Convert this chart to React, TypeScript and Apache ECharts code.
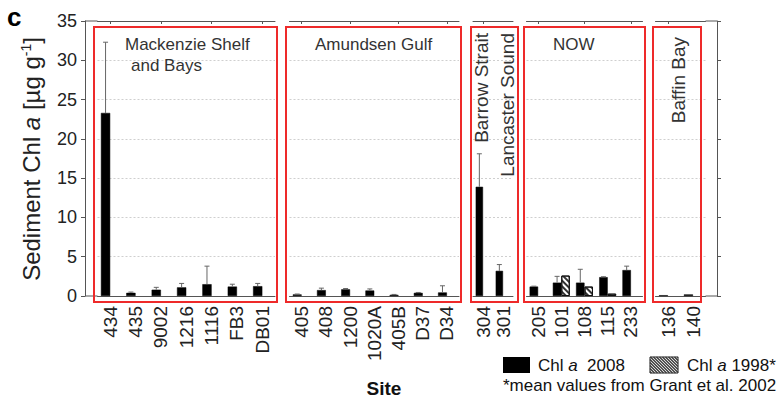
import React, { useEffect, useRef } from 'react';
import * as echarts from 'echarts';

// ---- data ----
const sitesMackenzie = ['434', '435', '9002', '1216', '1116', 'FB3', 'DB01'];
const chl2008Mackenzie = [23.3, 0.4, 0.8, 1.1, 1.5, 1.2, 1.25];
const err2008Mackenzie = [9.0, 0.1, 0.3, 0.5, 2.3, 0.3, 0.35];

const sitesAmundsen = ['405', '408', '1200', '1020A', '405B', 'D37', 'D34'];
const chl2008Amundsen = [0.2, 0.75, 0.85, 0.7, 0.15, 0.4, 0.45];
const err2008Amundsen = [0.05, 0.25, 0.1, 0.2, 0.05, 0.05, 0.85];

const sitesBarrow = ['304', '301'];
const chl2008Barrow = [13.9, 3.2];
const err2008Barrow = [4.2, 0.8];

const sitesNOW = ['205', '101', '108', '115', '233'];
const chl2008NOW = [1.2, 1.7, 1.7, 2.4, 3.3];
const err2008NOW = [0.05, 0.8, 1.7, 0.05, 0.5];
const chl1998NOW: (number | null)[] = [null, 2.6, 1.2, 0.3, null];

const sitesBaffin = ['136', '140'];
const chl2008Baffin = [0.1, 0.2];
const err2008Baffin = [0, 0];

const panelNames = ['Mackenzie Shelf', 'Amundsen Gulf', 'Barrow Strait', 'NOW', 'Baffin Bay'];
const yMin = 0;
const yMax = 35;
const yInterval = 5;

const FONT = 'Liberation Sans, Arial, sans-serif';
const AXIS = '#555';
const TXT = '#222';
const RED = '#ee2a2a';

type Panel = { sites: string[]; v08: (number | null)[]; e08: number[]; v98: (number | null)[] };
const panels: Panel[] = [
  { sites: sitesMackenzie, v08: chl2008Mackenzie, e08: err2008Mackenzie, v98: sitesMackenzie.map(() => null) },
  { sites: sitesAmundsen, v08: chl2008Amundsen, e08: err2008Amundsen, v98: sitesAmundsen.map(() => null) },
  { sites: sitesBarrow, v08: chl2008Barrow, e08: err2008Barrow, v98: sitesBarrow.map(() => null) },
  { sites: sitesNOW, v08: chl2008NOW, e08: err2008NOW, v98: chl1998NOW },
  { sites: sitesBaffin, v08: chl2008Baffin, e08: err2008Baffin, v98: sitesBaffin.map(() => null) },
];

// grid geometry (px)
const GRID_TOP = 21;
const GRID_H = 275;
const gridX = [
  [97.5, 177.5],
  [289.5, 169.5],
  [473, 40],
  [526.5, 116],
  [655.5, 50],
];
const CAT_GAP = 0.27;
const BAR_OFF = (1 - CAT_GAP) / 4; // fraction of band width from center to 2008 bar center

function hatchLines(x0: number, y0: number, w: number, h: number, step: number) {
  const out: any[] = [];
  for (let c = -h + step / 2; c < w; c += step) {
    const ya = Math.max(0, -c);
    const yb = Math.min(h, w - c);
    if (yb <= ya) continue;
    out.push({
      type: 'line',
      shape: { x1: x0 + c + ya, y1: y0 + ya, x2: x0 + c + yb, y2: y0 + yb },
      style: { stroke: '#333', lineWidth: 1.2 },
      z: 101,
    });
  }
  return out;
}

export default function App() {
  const ref = useRef<HTMLDivElement>(null);
  useEffect(() => {
    if (!ref.current) return;
    const chart = echarts.init(ref.current, null, { renderer: 'svg' });

    const grid = gridX.map(([left, width]) => ({ left, width, top: GRID_TOP, height: GRID_H }));
    const xAxis: any[] = [];
    const yAxis: any[] = [];
    const series: any[] = [];

    panels.forEach((p, gi) => {
      xAxis.push({
        type: 'category',
        gridIndex: gi,
        data: p.sites,
        position: 'bottom',
        axisLine: { show: true, lineStyle: { color: AXIS, width: 1 } },
        axisTick: { show: false },
        axisLabel: { rotate: 90, fontSize: 19, color: TXT, fontFamily: FONT, margin: 10, interval: 0 },
      });
      xAxis.push({
        type: 'category',
        gridIndex: gi,
        data: p.sites,
        position: 'top',
        axisLine: { show: true, lineStyle: { color: AXIS, width: 1 } },
        axisTick: { show: true, inside: true, alignWithLabel: true, length: 3, lineStyle: { color: AXIS } },
        axisLabel: { show: false },
      });
      const y: any = {
        type: 'value',
        gridIndex: gi,
        min: yMin,
        max: yMax,
        interval: yInterval,
        splitLine: { show: true, lineStyle: { color: '#cfcfcf', type: [2, 2], width: 1 } },
        axisLine: { show: false },
        axisTick: { show: false },
        axisLabel: { show: false },
      };
      if (gi === 0) {
        Object.assign(y, {
          position: 'left',
          offset: 12.5,
          axisLine: { show: true, lineStyle: { color: AXIS, width: 1 } },
          axisTick: { show: true, inside: false, length: 4, lineStyle: { color: AXIS } },
          axisLabel: { show: true, fontSize: 18, color: TXT, fontFamily: FONT, margin: 8 },
        });
      }
      if (gi === 4) {
        Object.assign(y, {
          position: 'right',
          offset: 11.5,
          axisLine: { show: true, lineStyle: { color: AXIS, width: 1 } },
          axisTick: { show: true, inside: false, length: 4, lineStyle: { color: AXIS } },
          axisLabel: { show: false },
        });
      }
      yAxis.push(y);

      series.push({
        type: 'bar',
        name: 'Chl a 2008',
        xAxisIndex: gi * 2,
        yAxisIndex: gi,
        data: p.v08,
        barGap: '0%',
        barCategoryGap: CAT_GAP * 100 + '%',
        itemStyle: { color: '#000', borderColor: '#000', borderWidth: 0.5 },
        z: 3,
      });
      series.push({
        type: 'bar',
        name: 'Chl a 1998*',
        xAxisIndex: gi * 2,
        yAxisIndex: gi,
        data: p.v98,
        barGap: '0%',
        barCategoryGap: CAT_GAP * 100 + '%',
        itemStyle: {
          color: '#fff',
          borderColor: '#111',
          borderWidth: 1,
          decal: {
            symbol: 'rect',
            symbolSize: 1,
            color: '#333',
            backgroundColor: '#fff',
            dashArrayX: [1, 0],
            dashArrayY: [1.2, 1.6],
            rotation: Math.PI / 4,
          },
        },
        z: 3,
      });
      series.push({
        type: 'custom',
        name: 'err',
        xAxisIndex: gi * 2,
        yAxisIndex: gi,
        data: p.sites.map((_, i) => [i, p.v08[i], p.e08[i]]),
        z: 5,
        renderItem: (params: any, api: any) => {
          const i = api.value(0);
          const v = api.value(1);
          const e = api.value(2);
          if (!e) return null;
          const base = api.coord([i, v]);
          const top = api.coord([i, v + e]);
          const bw = api.size([1, 0])[0];
          const x = base[0] - bw * BAR_OFF;
          const cap = 2.5;
          return {
            type: 'group',
            children: [
              { type: 'line', shape: { x1: x, y1: base[1], x2: x, y2: top[1] }, style: { stroke: '#666', lineWidth: 1 } },
              { type: 'line', shape: { x1: x - cap, y1: top[1], x2: x + cap, y2: top[1] }, style: { stroke: '#666', lineWidth: 1 } },
            ],
          };
        },
      });
    });

    const redBoxes = [
      [94, 27, 183, 275],
      [286, 27, 175, 275],
      [471, 27, 47, 275],
      [524, 27, 121, 275],
      [653, 27, 48, 275],
    ];

    const graphic: any[] = [
      // axis line extensions at outer corners
      { type: 'line', shape: { x1: 85, y1: GRID_TOP, x2: 97.5, y2: GRID_TOP }, style: { stroke: AXIS, lineWidth: 1 }, z: 10 },
      { type: 'line', shape: { x1: 85, y1: GRID_TOP + GRID_H, x2: 97.5, y2: GRID_TOP + GRID_H }, style: { stroke: AXIS, lineWidth: 1 }, z: 10 },
      { type: 'line', shape: { x1: 705.5, y1: GRID_TOP, x2: 717, y2: GRID_TOP }, style: { stroke: AXIS, lineWidth: 1 }, z: 10 },
      { type: 'line', shape: { x1: 705.5, y1: GRID_TOP + GRID_H, x2: 717, y2: GRID_TOP + GRID_H }, style: { stroke: AXIS, lineWidth: 1 }, z: 10 },
      ...redBoxes.map(([x, y, w, h]) => ({
        type: 'rect',
        shape: { x, y, width: w, height: h },
        style: { fill: 'none', stroke: RED, lineWidth: 2 },
        z: 100,
      })),
      // y axis title
      {
        type: 'text', x: 31, y: 159, rotation: Math.PI / 2,
        style: {
          text: '{n|Sediment Chl }{i|a}{n| [µg g}{s|-1}{n|]}',
          align: 'center',
          verticalAlign: 'middle',
          rich: {
            n: { font: `24px ${FONT}`, fill: TXT },
            i: { font: `italic 24px ${FONT}`, fill: TXT },
            s: { font: `14px ${FONT}`, fill: TXT, verticalAlign: 'top', padding: [0, 0, 9, 0] },
          },
        },
        z: 100,
      },
      { type: 'text', x: 125, y: 44, style: { text: panelNames[0], font: `17px ${FONT}`, fill: '#333', verticalAlign: 'middle' }, z: 100 },
      { type: 'text', x: 131, y: 65, style: { text: 'and Bays', font: `17px ${FONT}`, fill: '#333', verticalAlign: 'middle' }, z: 100 },
      { type: 'text', x: 315, y: 44, style: { text: panelNames[1], font: `17px ${FONT}`, fill: '#333', verticalAlign: 'middle' }, z: 100 },
      { type: 'text', x: 553, y: 44, style: { text: panelNames[3], font: `17px ${FONT}`, fill: '#333', verticalAlign: 'middle' }, z: 100 },
      { type: 'text', x: 481, y: 33, rotation: Math.PI / 2, style: { text: panelNames[2], font: `19px ${FONT}`, fill: '#333', align: 'right', verticalAlign: 'middle' }, z: 100 },
      { type: 'text', x: 507, y: 33, rotation: Math.PI / 2, style: { text: 'Lancaster Sound', font: `19px ${FONT}`, fill: '#333', align: 'right', verticalAlign: 'middle' }, z: 100 },
      { type: 'text', x: 678, y: 37, rotation: Math.PI / 2, style: { text: panelNames[4], font: `19px ${FONT}`, fill: '#333', align: 'right', verticalAlign: 'middle' }, z: 100 },
      { type: 'text', x: 7, y: 17, style: { text: 'c', font: `bold 26px ${FONT}`, fill: '#000', verticalAlign: 'middle' }, z: 100 },
      { type: 'text', x: 384, y: 388, style: { text: 'Site', font: `bold 19px ${FONT}`, fill: '#111', align: 'center', verticalAlign: 'middle' }, z: 100 },
      // legend
      { type: 'rect', shape: { x: 503, y: 357, width: 27, height: 16 }, style: { fill: '#000' }, z: 100 },
      {
        type: 'text', x: 538, y: 365,
        style: {
          text: '{n|Chl }{i|a}{n|  2008}',
          verticalAlign: 'middle',
          rich: {
            n: { font: `17px ${FONT}`, fill: '#111' },
            i: { font: `italic 17px ${FONT}`, fill: '#111' },
          },
        },
        z: 100,
      },
      { type: 'rect', shape: { x: 650, y: 357, width: 28, height: 16 }, style: { fill: '#fff', stroke: '#222', lineWidth: 1 }, z: 100 },
      ...hatchLines(650, 357, 28, 16, 3),
      {
        type: 'text', x: 687, y: 365,
        style: {
          text: '{n|Chl }{i|a}{n| 1998*}',
          verticalAlign: 'middle',
          rich: {
            n: { font: `17px ${FONT}`, fill: '#111' },
            i: { font: `italic 17px ${FONT}`, fill: '#111' },
          },
        },
        z: 100,
      },
      { type: 'text', x: 503, y: 385, style: { text: '*mean values from Grant et al. 2002', font: `17px ${FONT}`, fill: '#111', verticalAlign: 'middle' }, z: 100 },
    ];

    chart.setOption({
      animation: false,
      backgroundColor: '#fff',
      textStyle: { fontFamily: FONT },
      grid,
      xAxis,
      yAxis,
      series,
      graphic,
    });
    return () => chart.dispose();
  }, []);

  return <div ref={ref} style={{ position: 'fixed', left: 0, top: 0, width: 781, height: 399 }} />;
}
